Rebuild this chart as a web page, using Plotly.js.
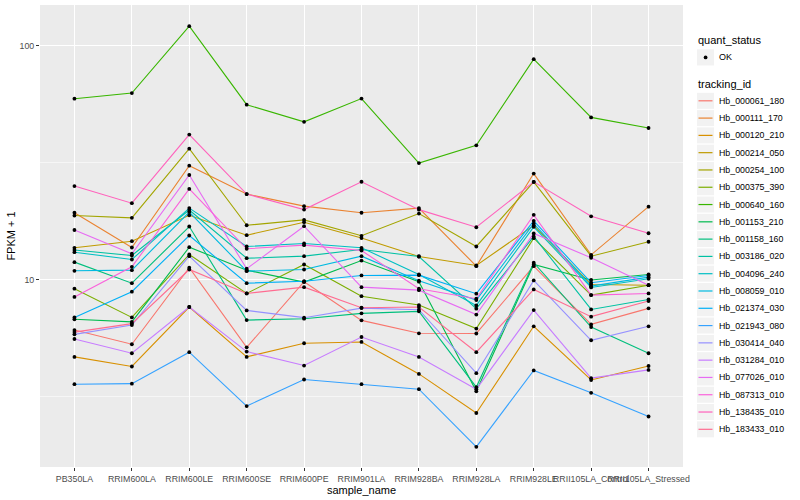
<!DOCTYPE html>
<html><head><meta charset="utf-8">
<script src="https://cdn.plot.ly/plotly-3.0.1.min.js"></script>
<style>html,body{margin:0;padding:0;background:#fff}#chart{width:800px;height:500px}</style>
</head><body><div id="chart"></div>
<script>
const samples = ["PB350LA","RRIM600LA","RRIM600LE","RRIM600SE","RRIM600PE","RRIM901LA","RRIM928BA","RRIM928LA","RRIM928LE","RRII105LA_Control","RRII105LA_Stressed"];

const trackingIds = ["Hb_000061_180","Hb_000111_170","Hb_000120_210","Hb_000214_050","Hb_000254_100","Hb_000375_390","Hb_000640_160","Hb_001153_210","Hb_001158_160","Hb_003186_020","Hb_004096_240","Hb_008059_010","Hb_021374_030","Hb_021943_080","Hb_030414_040","Hb_031284_010","Hb_077026_010","Hb_087313_010","Hb_138435_010","Hb_183433_010"];

const seriesColors = ["#F8766D","#EA8331","#D89000","#C09B00","#A3A500","#7CAE00","#39B600","#00BB4E","#00BF7D","#00C1A3","#00BFC4","#00BAE0","#00B0F6","#35A2FF","#9590FF","#C77CFF","#E76BF3","#FA62DB","#FF62BC","#FF6C91"];

// FPKM + 1 per sample (same order as samples)
const Hb_000061_180 = [6.07, 5.28, 11.22, 5.12, 9.78, 6.68, 5.88, 5.87, 11.40, 6.42, 7.52];
const Hb_000111_170 = [19.3, 13.7, 30.7, 23.2, 20.6, 19.3, 20.2, 11.4, 28.4, 12.75, 20.5];
const Hb_000120_210 = [4.66, 4.24, 7.62, 4.66, 5.33, 5.40, 3.94, 2.68, 6.30, 3.71, 4.26];
const Hb_000214_050 = [13.66, 14.58, 18.83, 15.47, 17.58, 15.05, 12.54, 11.48, 17.01, 9.52, 9.45];
const Hb_000254_100 = [18.77, 18.35, 36.3, 17.06, 17.99, 15.38, 19.15, 13.84, 26.16, 12.58, 14.50];
const Hb_000375_390 = [9.13, 6.88, 12.79, 8.71, 11.59, 8.48, 7.77, 6.16, 15.02, 8.57, 9.45];
const Hb_000640_160 = [59.4, 62.8, 121.4, 56.0, 47.3, 59.5, 31.5, 37.5, 87.7, 49.4, 44.5];
const Hb_001153_210 = [6.75, 6.58, 13.74, 10.96, 9.74, 12.05, 9.78, 3.32, 11.59, 9.95, 10.50];
const Hb_001158_160 = [11.86, 9.64, 16.85, 6.70, 6.79, 7.16, 7.30, 3.46, 11.79, 6.25, 4.83];
const Hb_003186_020 = [13.37, 12.66, 19.82, 12.33, 12.58, 13.44, 12.54, 7.50, 15.27, 7.44, 8.21];
const Hb_004096_240 = [13.08, 12.17, 20.21, 13.84, 14.25, 13.66, 10.50, 7.74, 16.80, 9.24, 10.07];
const Hb_008059_010 = [10.89, 10.96, 19.43, 10.85, 11.03, 12.58, 9.87, 8.16, 17.35, 9.36, 10.23];
const Hb_021374_030 = [6.88, 8.86, 15.42, 9.64, 9.83, 10.40, 10.43, 8.69, 17.82, 9.68, 10.40];
const Hb_021943_080 = [3.56, 3.58, 4.88, 2.87, 3.73, 3.56, 3.39, 1.92, 4.08, 3.27, 2.59];
const Hb_030414_040 = [5.82, 6.38, 12.58, 7.37, 6.86, 7.54, 7.42, 3.97, 9.90, 5.49, 6.30];
const Hb_031284_010 = [5.56, 4.83, 7.62, 4.91, 4.28, 5.67, 4.66, 3.39, 7.39, 3.78, 4.10];
const Hb_077026_010 = [16.28, 12.88, 28.0, 11.11, 16.9, 9.27, 9.00, 7.07, 15.73, 12.38, 9.45];
const Hb_087313_010 = [8.42, 11.33, 24.4, 13.53, 14.02, 13.30, 9.13, 8.27, 18.90, 8.57, 8.71];
const Hb_138435_010 = [25.1, 21.2, 41.7, 23.2, 19.91, 26.2, 19.9, 16.73, 26.16, 18.64, 15.77];
const Hb_183433_010 = [5.95, 6.47, 11.03, 8.71, 9.27, 7.57, 7.62, 4.88, 9.06, 6.93, 8.08];

const seriesValues = [Hb_000061_180, Hb_000111_170, Hb_000120_210, Hb_000214_050, Hb_000254_100, Hb_000375_390, Hb_000640_160, Hb_001153_210, Hb_001158_160, Hb_003186_020, Hb_004096_240, Hb_008059_010, Hb_021374_030, Hb_021943_080, Hb_030414_040, Hb_031284_010, Hb_077026_010, Hb_087313_010, Hb_138435_010, Hb_183433_010];

const yTickVals = [10, 100];
const yTickText = ["10", "100"];
const yMinorVals = [3.1623, 31.623];

const FONT = '"Liberation Sans", Arial, Helvetica, sans-serif';

// plot area in pixels
const L = 40, R = 683, T = 5, B = 467;
const px = x => (x - L) / (R - L);
const py = y => (B - y) / (B - T);

const traces = [];
trackingIds.forEach((id, i) => {
  traces.push({
    type: 'scatter', mode: 'lines', x: samples, y: seriesValues[i], name: id,
    line: {color: seriesColors[i], width: 1.1}, showlegend: false, hoverinfo: 'skip'
  });
});
trackingIds.forEach((id, i) => {
  traces.push({
    type: 'scatter', mode: 'markers', x: samples, y: seriesValues[i], name: id + ' OK',
    marker: {color: '#000000', size: 3.8}, showlegend: false, hoverinfo: 'skip', cliponaxis: false
  });
});

const shapes = [];
const annotations = [];
// legend: quant_status
annotations.push({xref:'paper', yref:'paper', x: px(696), y: py(40.5), xanchor:'left', yanchor:'middle', showarrow:false, text:'quant_status', font:{family:FONT, size:11, color:'#000'}});
shapes.push({type:'rect', xref:'paper', yref:'paper', x0:px(697), x1:px(714), y0:py(49.3), y1:py(65.5), fillcolor:'#F2F2F2', line:{width:0}});
shapes.push({type:'circle', xref:'paper', yref:'paper', x0:px(703.7), x1:px(707.5), y0:py(55.5), y1:py(59.3), fillcolor:'#000', line:{width:0}});
annotations.push({xref:'paper', yref:'paper', x: px(716.5), y: py(57.4), xanchor:'left', yanchor:'middle', showarrow:false, text:'OK', font:{family:FONT, size:9, color:'#000'}});
// legend: tracking_id
annotations.push({xref:'paper', yref:'paper', x: px(696), y: py(84.3), xanchor:'left', yanchor:'middle', showarrow:false, text:'tracking_id', font:{family:FONT, size:11, color:'#000'}});
trackingIds.forEach((id, i) => {
  const cy = 100.8 + 17.29 * i;
  shapes.push({type:'rect', xref:'paper', yref:'paper', x0:px(697), x1:px(714), y0:py(cy - 8), y1:py(cy + 8), fillcolor:'#F2F2F2', line:{width:0}});
  shapes.push({type:'line', xref:'paper', yref:'paper', x0:px(698.5), x1:px(712.5), y0:py(cy), y1:py(cy), line:{color:seriesColors[i], width:1.2}});
  annotations.push({xref:'paper', yref:'paper', x: px(716.5), y: py(cy), xanchor:'left', yanchor:'middle', showarrow:false, text:id, font:{family:FONT, size:8.8, color:'#000'}});
});

const layout = {
  width: 800, height: 500,
  margin: {l: L, r: 800 - R, t: T, b: 500 - B, pad: 0},
  paper_bgcolor: '#FFFFFF', plot_bgcolor: '#EBEBEB',
  font: {family: FONT, size: 9, color: '#4D4D4D'},
  showlegend: false,
  xaxis: {
    type: 'category', categoryorder: 'array', categoryarray: samples,
    range: [-0.6, 10.6], showgrid: true, gridcolor: '#FFFFFF', gridwidth: 1.1,
    zeroline: false, showline: false, ticks: 'outside', ticklen: 3, tickwidth: 1, tickcolor: '#333333',
    tickangle: 0, tickfont: {family: FONT, size: 8.8, color: '#4D4D4D'},
    title: {text: 'sample_name', font: {family: FONT, size: 11, color: '#000'}, standoff: 2}
  },
  yaxis: {
    type: 'log', range: [0.197, 2.175], tickmode: 'array', tickvals: yTickVals, ticktext: yTickText,
    showgrid: true, gridcolor: '#FFFFFF', gridwidth: 1.1, zeroline: false, showline: false,
    ticks: 'outside', ticklen: 3, tickwidth: 1, tickcolor: '#333333',
    tickfont: {family: FONT, size: 8.8, color: '#4D4D4D'},
    minor: {tickmode: 'array', tickvals: yMinorVals, showgrid: true, gridcolor: '#FFFFFF', gridwidth: 0.55, ticks: ''},
    title: {text: 'FPKM + 1', font: {family: FONT, size: 11, color: '#000'}, standoff: 1}
  },
  shapes: shapes,
  annotations: annotations
};

Plotly.newPlot('chart', traces, layout, {staticPlot: true, displayModeBar: false});
</script></body></html>
